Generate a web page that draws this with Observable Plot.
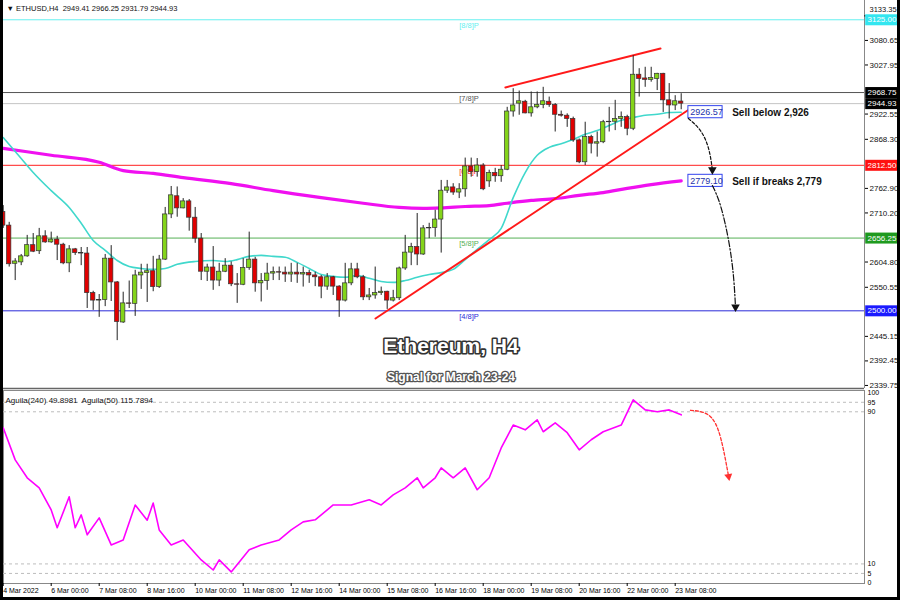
<!DOCTYPE html>
<html><head><meta charset="utf-8">
<script src="https://cdn.jsdelivr.net/npm/d3@7"></script>
<script src="https://cdn.jsdelivr.net/npm/@observablehq/plot@0.6"></script>
<style>
body{margin:0;background:#fff;}
#wrap{position:relative;width:900px;height:600px;overflow:hidden;background:#fff;font-family:"Liberation Sans",Arial,sans-serif;}
#main{position:absolute;left:0;top:0;}
#osc{position:absolute;left:0;top:388px;}
#border{position:absolute;left:0;top:0;width:900px;height:600px;box-sizing:border-box;border-left:3px solid #000;border-right:3px solid #000;border-bottom:3px solid #000;pointer-events:none}
</style></head><body>
<div id="wrap"><div id="main"></div><div id="osc"></div><div id="border"></div></div>
<script>
// ---- data (H4 candles, index 0 = 4 Mar 16:00) ----
const opens=[2712,2683,2601,2604,2617,2641,2628,2660,2647,2653,
2642,2602,2632,2624,2623,2538,2522,2523,2612,2561,
2475,2516,2515,2576,2581,2585,2551,2610,2707,2746,
2720,2735,2700,2655,2584,2593,2565,2584,2597,2557,
2556,2592,2610,2559,2564,2580,2583,2582,2578,2582,
2578,2581,2576,2572,2552,2572,2552,2522,2559,2589,
2572,2529,2533,2538,2541,2522,2527,2591,2625,2637,
2621,2677,2678,2696,2758,2765,2754,2761,2810,2798,
2812,2778,2796,2789,2803,2928,2945,2949,2924,2937,
2942,2949,2942,2921,2919,2912,2866,2819,2873,2859,
2862,2905,2906,2912,2916,2891,3007,2999,2996,2998,
3009,2952,2941,2949.41];
const highs=[2726,2690,2612,2621,2662,2666,2677,2672,2669,2660,
2645,2640,2634,2636,2636,2542,2535,2621,2640,2563,
2540,2564,2587,2600,2600,2617,2619,2722,2767,2766,
2741,2739,2722,2666,2600,2638,2602,2612,2605,2580,
2612,2669,2615,2580,2602,2594,2594,2594,2602,2602,
2594,2587,2583,2576,2580,2574,2554,2602,2602,2602,
2576,2548,2594,2551,2542,2544,2594,2662,2645,2709,
2683,2688,2716,2780,2780,2773,2773,2828,2828,2827,
2816,2802,2806,2812,2937,2977,2972,2952,2970,2970,
2980,2959,2945,2929,2923,2916,2869,2905,2877,2884,
2909,2937,2952,2927,2920,3048,3020,3023,3023,3010,
3010,2988,2962,2966.25];
const lows=[2677,2594,2565,2597,2615,2625,2621,2645,2645,2608,
2599,2582,2619,2597,2505,2501,2486,2509,2520,2436,
2473,2505,2488,2546,2518,2541,2548,2608,2698,2701,
2719,2671,2645,2565,2563,2544,2552,2582,2552,2516,
2554,2587,2540,2519,2544,2565,2565,2561,2561,2559,
2551,2559,2552,2526,2544,2533,2486,2519,2554,2569,
2522,2522,2525,2533,2503,2519,2522,2587,2597,2597,
2619,2655,2658,2624,2752,2748,2741,2744,2787,2787,
2758,2765,2776,2776,2801,2916,2920,2923,2916,2934,
2934,2937,2884,2916,2894,2862,2816,2812,2837,2830,
2859,2884,2887,2894,2876,2887,2959,2980,2991,2973,
2926,2912,2930,2931.79];
const closes=[2683,2600,2606,2617,2641,2627,2660,2647,2653,2642,
2602,2632,2624,2623,2538,2522,2523,2612,2561,2476,
2516,2515,2576,2582,2585,2551,2610,2707,2748,2720,
2735,2700,2655,2584,2593,2565,2584,2597,2557,2556,
2592,2610,2559,2564,2580,2583,2582,2578,2582,2578,
2581,2576,2572,2552,2572,2552,2522,2559,2589,2572,
2529,2533,2538,2541,2522,2527,2591,2625,2637,2621,
2677,2678,2696,2758,2765,2754,2761,2810,2798,2812,
2761,2796,2789,2803,2928,2941,2950,2924,2937,2942,
2950,2942,2921,2919,2912,2866,2819,2873,2859,2862,
2905,2906,2912,2916,2891,3007,2998,2996,3000,3009,
2952,2941,2950,2944.93];

// moving averages (candle index, price)
const cyanK=[0,3,5,8,11,13,15,17,19,21,23,25,27,29,32,35,37,39,41,43,45,47,49,51,53,55,57,59,61,63,65,67,69,71,73,75,77,79,81,83,85,87,89,91,93,95,97,99,101,103,105,107,109,111,113];
const cyanV=[2872,2827,2797,2758,2722,2688,2651,2630,2608,2595,2591,2589,2591,2600,2606,2608,2606,2610,2617,2619,2617,2615,2604,2591,2578,2574,2572,2576,2570,2563,2561,2565,2572,2578,2582,2589,2610,2632,2653,2677,2743,2797,2834,2851,2859,2868,2879,2887,2898,2909,2915,2920,2922,2926,2926.57];
const magK=[0,8,16,20,25,30,38,45,53,60,66,70,73,77,81,84,88,92,96,100,104,108,113];
const magV=[2849,2834,2819,2801,2795,2786,2773,2758,2743,2731,2722,2720,2721,2724,2726,2731,2737,2741,2748,2754,2763,2771,2779.1];

// Murrey levels
const levelValues=[3125,2968.75,2812.5,2656.25,2500];
const levelNames=["[8/8]P","[7/8]P","[6/8]P","[5/8]P","[4/8]P"];
const bidPrice=2944.93;

// axis ticks
const priceTicks=[2339.75,2392.45,2445.15,2550.55,2604.80,2710.20,2762.90,2868.30,2922.55,3027.95,3080.65];
const topTick=3133.35;
const xTickIdx=[0,8,16,24,32,40,48,56,64,72,80,88,96,104,112];
const xTickLabels=["4 Mar 2022","6 Mar 00:00","7 Mar 08:00","8 Mar 16:00","10 Mar 00:00","11 Mar 08:00","12 Mar 16:00","14 Mar 00:00","15 Mar 08:00","16 Mar 16:00","18 Mar 00:00","19 Mar 08:00","20 Mar 16:00","22 Mar 00:00","23 Mar 08:00"];

// signal annotations
const signalValues=[2926.57,2779.10];
const signalTexts=["Sell below 2,926","Sell if breaks 2,779"];
const trendA=[[62.05,2483.6],[114.55,2934.5]];
const trendB=[[83.7,2979.6],[109.55,3063.3]];
const arrow1=[[114.2,2913],[116.2,2887],[117.55,2849],[118.2,2803]];
const arrow2=[[118.2,2769],[119.55,2726],[120.9,2651],[121.7,2576],[122.05,2508]];

// oscillator (candle index, value 0-100)
const oscK=[0,2,4,6,8,9,11,12,13,14,16,18,20,22,24,25,26,28,30,33,35,36,38,41,43,46,48,50,52,55,58,61,63,65,67,69,70,72,73,75,77,79,81,83,85,87,89,90,92,94,96,98,100,103,105,107,109,111,113];
const oscV=[81.6,64.7,55.3,50,38.4,29,45.3,29,35.8,25.3,34.2,20,22.6,41,33,42,27.9,20,22.6,12.1,6.8,12.1,5.8,17.4,20,22.6,27.9,32.1,33.2,41,41,43.7,41,46.3,50,55.3,50,55.3,60.5,55.3,60.5,49,55.3,71,83,80.5,85.8,79.5,84.2,79,70,75.3,79.5,83,96.3,91,90,91,88.4];
const oscLevels=[95,90,10,5];
const oscTicks=[100,95,90,10,5,0];
const arrow3=[[114.55,90.8],[117.05,89.2],[119.2,80.2],[120.9,56]];

// ---- styles ----
const FONT="Liberation Sans, Arial, sans-serif";
const levelColor=["#66f0f0","#555555","#ff2020","#55b055","#2a2ad8"];
const boxColor={3125:"#33e6f0",2968.75:"#000",2944.93:"#000",2812.5:"#ff1010",2656.25:"#1f9a1f",2500:"#1a1aff"};
const X0=0.05, X1=143.55; // candle-index domain for the plot area

const candles=opens.map((o,i)=>({k:i,o,h:highs[i],l:lows[i],c:closes[i]}));
const cyan=cyanK.map((k,i)=>({k,v:cyanV[i]}));
const mag=magK.map((k,i)=>({k,v:magV[i]}));
const levels=levelValues.map((v,i)=>({v,name:levelNames[i],color:levelColor[i]}));
const boxes=[...levelValues,bidPrice].map(v=>({v,color:boxColor[v]}));
const toPts=a=>a.map(([k,v])=>({k,v}));
const lastK=candles.length-1;

const main=Plot.plot({
  width:900,height:388,marginLeft:3,marginRight:36,marginTop:0,marginBottom:0,
  style:{fontFamily:FONT,fontSize:"8px",background:"transparent",overflow:"visible"},
  x:{type:"linear",domain:[X0,X1],axis:null},
  y:{type:"linear",domain:[2333.2,3166.4],axis:null},
  marks:[
    Plot.ruleY(levels,{y:"v",stroke:"color",strokeWidth:1}),
    Plot.ruleY([bidPrice],{stroke:"#c4c4c4"}),
    Plot.text(levels,{x:76,y:"v",text:"name",fill:"color",textAnchor:"start",dy:6,fontSize:7.5}),
    Plot.line(mag,{x:"k",y:"v",stroke:"#f010f0",strokeWidth:3.2,curve:"monotone-x"}),
    Plot.line(cyan,{x:"k",y:"v",stroke:"#40d8cc",strokeWidth:1.6,curve:"monotone-x"}),
    Plot.line(toPts(trendA),{x:"k",y:"v",stroke:"#ff1a1a",strokeWidth:2}),
    Plot.line(toPts(trendB),{x:"k",y:"v",stroke:"#ff1a1a",strokeWidth:2}),
    Plot.ruleX(candles,{x:"k",y1:"l",y2:"h",stroke:"#222",strokeWidth:1}),
    Plot.rect(candles,{x1:d=>d.k-0.36,x2:d=>d.k+0.36,y1:d=>Math.min(d.o,d.c),y2:d=>Math.max(d.o,d.c),
      fill:d=>d.c>=d.o?"#84d41a":"#e00000",stroke:"#333",strokeWidth:0.7}),
    // signal boxes
    Plot.rect(signalValues,{x1:lastK+1.2,x2:lastK+6.9,y1:d=>d-13,y2:d=>d+13,fill:"#fff",stroke:"#3344ee",strokeWidth:1}),
    Plot.text(signalValues,{x:lastK+1.5,y:d=>d,text:d=>d.toFixed(2),textAnchor:"start",fill:"#2233aa",fontSize:9}),
    Plot.text(signalValues,{x:lastK+8.5,y:d=>d,text:(d,i)=>signalTexts[i],textAnchor:"start",fill:"#111",fontSize:10,fontWeight:"bold",dy:1}),
    // forecast arrows
    Plot.line(toPts(arrow1),{x:"k",y:"v",stroke:"#111",strokeWidth:1.2,strokeDasharray:"3,2",curve:"natural"}),
    Plot.line(toPts(arrow2),{x:"k",y:"v",stroke:"#111",strokeWidth:1.2,strokeDasharray:"6,2,1.5,2",curve:"natural"}),
    Plot.dot([arrow1[arrow1.length-1],arrow2[arrow2.length-1]],{x:d=>d[0],y:d=>d[1],symbol:"triangle",r:3.2,fill:"#111",rotate:180}),
    // title
    Plot.text(["Ethereum, H4"],{frameAnchor:"bottom",dx:17,dy:-36,fontSize:21,fontWeight:"bold",fill:"#fff",stroke:"#333",strokeWidth:3.2,paintOrder:"stroke"}),
    Plot.text(["Signal for March 23-24"],{frameAnchor:"bottom",dx:17,dy:-8,fontSize:12,fontWeight:"bold",fill:"#fff",stroke:"#555",strokeWidth:2.6,paintOrder:"stroke"}),
    Plot.text(["\u25BC ETHUSD,H4  2949.41 2966.25 2931.79 2944.93"],{frameAnchor:"top-left",dx:3,dy:5,fontSize:7.5,fill:"#111"}),
    // frame and price axis
    Plot.ruleX([X1],{stroke:"#888"}),
    Plot.ruleY([2333.2],{stroke:"#666",strokeWidth:1.5}),
    Plot.axisY({ticks:priceTicks,anchor:"right",tickSize:3,tickPadding:2,tickFormat:d=>d.toFixed(2),fontSize:8,label:null,fill:"#111"}),
    Plot.ruleY([topTick],{x1:X1,x2:X1+0.5,stroke:"#111"}),
    Plot.text([topTick],{x:X1,y:d=>d,dx:5,dy:-6,text:d=>d.toFixed(2),textAnchor:"start",fontSize:7.5,fill:"#111"}),
    Plot.ruleY(boxes,{y:"v",x1:X1+0.2,x2:X1+5.5,stroke:"color",strokeWidth:11}),
    Plot.text(boxes,{x:X1,y:"v",dx:3,text:d=>d.v.toFixed(2),textAnchor:"start",fill:"#fff",fontSize:8})
  ]
});
document.getElementById("main").appendChild(main);

const labelMap=new Map(xTickIdx.map((k,i)=>[k,xTickLabels[i]]));
const osc=Plot.plot({
  width:900,height:212,marginLeft:3,marginRight:36,marginTop:2,marginBottom:17,
  style:{fontFamily:FONT,fontSize:"8px",background:"transparent",overflow:"visible"},
  x:{type:"linear",domain:[X0,X1]},
  y:{type:"linear",domain:[-0.3,101.2]},
  marks:[
    Plot.frame({stroke:"#888"}),
    Plot.ruleY(oscLevels,{stroke:"#bdbdbd",strokeDasharray:"3,3"}),
    Plot.line(oscK.map((k,i)=>({k,v:oscV[i]})),{x:"k",y:"v",stroke:"#ff00ff",strokeWidth:1.6}),
    Plot.line(toPts(arrow3),{x:"k",y:"v",stroke:"#ff3030",strokeWidth:1.3,strokeDasharray:"3,2",curve:"natural"}),
    Plot.dot([arrow3[arrow3.length-1]],{x:d=>d[0],y:d=>d[1],symbol:"triangle",r:3,fill:"#ff3030",rotate:170}),
    Plot.text(["Aguila(240) 49.8981  Aguila(50) 115.7894"],{frameAnchor:"top-left",dx:2,dy:7,fontSize:8,fill:"#111"}),
    Plot.axisY({ticks:oscTicks,anchor:"right",tickSize:0,tickPadding:3,fontSize:7,label:null}),
    Plot.axisX({ticks:xTickIdx,anchor:"bottom",tickSize:3,tickPadding:2,tickFormat:d=>labelMap.get(d),textAnchor:"start",fontSize:7,label:null})
  ]
});
document.getElementById("osc").appendChild(osc);
</script>
</body></html>
